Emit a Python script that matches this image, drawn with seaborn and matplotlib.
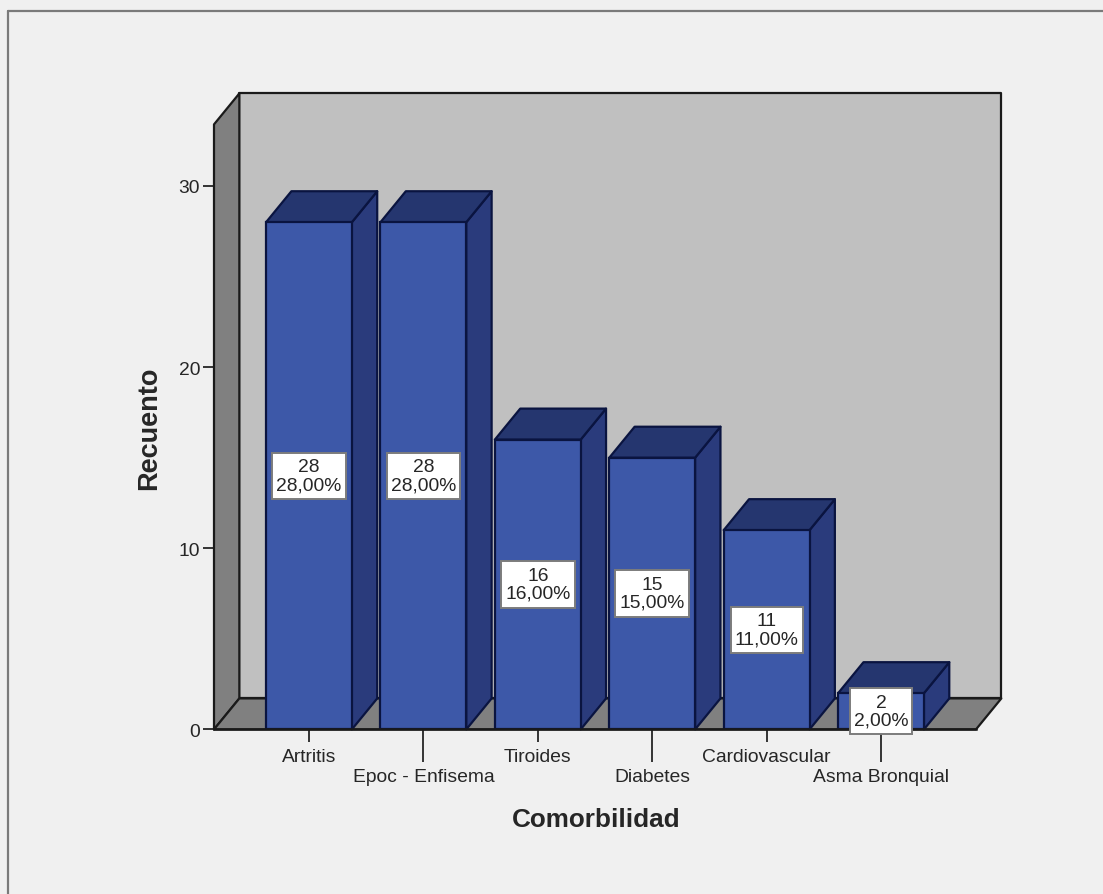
import matplotlib
matplotlib.use("Agg")
import matplotlib.pyplot as plt
from matplotlib.lines import Line2D
from matplotlib.patches import Polygon
from matplotlib.path import Path
import pandas as pd
import seaborn as sns

# Comorbidity counts
categories = ["Artritis", "Epoc - Enfisema", "Tiroides", "Diabetes",
              "Cardiovascular", "Asma Bronquial"]
counts = [28, 28, 16, 15, 11, 2]
percents = ["28,00%", "28,00%", "16,00%", "15,00%", "11,00%", "2,00%"]
y_ticks = [0, 10, 20, 30]

PAGE = "#F0F0F0"
FRONT = "#3D58A8"
SIDE = "#2A3B7C"
TOP = "#25366F"
BAR_EDGE = "#0A1440"
WALL = "#C0C0C0"
WALL_DARK = "#808080"
INK = "#1A1A1A"
TEXT = "#262626"
LABEL_SIZE = 13.9

sns.set_theme(style="white")
plt.rcParams["font.family"] = ["Liberation Sans", "DejaVu Sans"]

W, H = 1103, 895
fig = plt.figure(figsize=(W / 100, H / 100), dpi=100, facecolor=PAGE)
ax = fig.add_axes([214 / W, 1 - 730.4 / H, 762 / W, 605 / H])
ax.patch.set_alpha(0)

df = pd.DataFrame({"Comorbilidad": categories, "Recuento": counts})
sns.barplot(data=df, x="Comorbilidad", y="Recuento", color=FRONT, saturation=1,
            width=0.75, edgecolor=BAR_EDGE, linewidth=1.6, zorder=5, ax=ax)
ax.set_xlim(-0.83, 5.83)
ax.set_ylim(0, 33.4)

# Oblique depth of the pseudo-3D box, in data units
DX, DY = 0.2215, 1.71


def face(points, color, edge=INK, z=1):
    ax.add_patch(Polygon(points, closed=True, facecolor=color, edgecolor=edge,
                         linewidth=1.6, joinstyle="round", clip_on=False, zorder=z))


def label_box(x0, y0, width, height, mutation_size):
    """Square box with more room above and below the text than beside it."""
    px, py = 0.21 * mutation_size, 0.3 * mutation_size
    left, right = x0 - px, x0 + width + px
    low, high = y0 - py, y0 + height + py
    return Path([(left, low), (right, low), (right, high), (left, high), (left, low)],
                closed=True)


x0, x1 = ax.get_xlim()
y0, y1 = ax.get_ylim()
face([(x0 + DX, y0 + DY), (x1 + DX, y0 + DY), (x1 + DX, y1 + DY), (x0 + DX, y1 + DY)], WALL)
face([(x0, y0), (x0 + DX, y0 + DY), (x0 + DX, y1 + DY), (x0, y1)], WALL_DARK, z=2)
face([(x0, y0), (x1, y0), (x1 + DX, y0 + DY), (x0 + DX, y0 + DY)], WALL_DARK, z=2)

# Side and top faces of each bar
half = 0.375
for i, v in enumerate(counts):
    left, right = i - half, i + half
    face([(right, 0), (right + DX, DY), (right + DX, v + DY), (right, v)],
         SIDE, BAR_EDGE, z=4)
    face([(left, v), (right, v), (right + DX, v + DY), (left + DX, v + DY)],
         TOP, BAR_EDGE, z=4)

# Count and percentage labels centred on each bar
for i, (v, p) in enumerate(zip(counts, percents)):
    ax.text(i, v / 2, f"{v}\n{p}", ha="center", va="center", fontsize=LABEL_SIZE,
            linespacing=1.06, color=TEXT, zorder=7,
            bbox=dict(boxstyle=label_box, facecolor="white",
                      edgecolor="#7C7C7C", linewidth=1.4))

# Staggered category labels: even positions on major ticks, odd ones on minor
ax.set_xticks(range(0, 6, 2), categories[0::2])
ax.set_xticks(range(1, 6, 2), categories[1::2], minor=True)
ax.tick_params(axis="x", which="major", bottom=True, length=9, width=1.4,
               color="#333333", pad=4.6, labelsize=LABEL_SIZE, labelcolor=TEXT)
ax.tick_params(axis="x", which="minor", bottom=True, length=24, width=1.4,
               color="#333333", pad=3.8, labelsize=LABEL_SIZE, labelcolor=TEXT)
ax.set_yticks(y_ticks)
ax.tick_params(axis="y", left=True, length=8, width=1.4, color="#333333",
               pad=2, labelsize=LABEL_SIZE, labelcolor=TEXT)

ax.set_xlabel("Comorbilidad", fontsize=18.8, fontweight="bold", color=TEXT)
ax.set_ylabel("Recuento", fontsize=19.5, fontweight="bold", color=TEXT)
ax.xaxis.set_label_coords(0.501, -0.129)
ax.yaxis.set_label_coords(-0.068, 0.499)

for side in ("top", "right", "left"):
    ax.spines[side].set_visible(False)
ax.spines["bottom"].set_color(INK)
ax.spines["bottom"].set_linewidth(1.8)
ax.spines["bottom"].set_zorder(6)

# Thin frame along the top and left page edges
frame = dict(color="#7A7A7A", linewidth=1.6, transform=fig.transFigure)
fig.add_artist(Line2D([8 / W, 8 / W], [0, 1 - 12 / H], **frame))
fig.add_artist(Line2D([8 / W, 1], [1 - 12 / H, 1 - 12 / H], **frame))

fig.savefig("out.png", dpi=100, facecolor=PAGE)
